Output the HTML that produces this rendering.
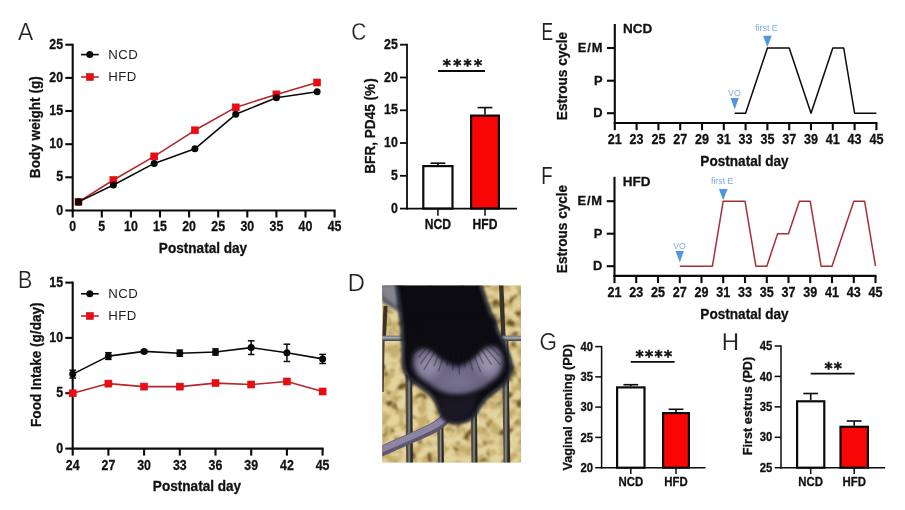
<!DOCTYPE html>
<html lang="en"><head><meta charset="utf-8"><title>Figure</title>
<style>html,body{margin:0;padding:0;background:#fff;}body{width:905px;height:510px;overflow:hidden;}svg{display:block;filter:blur(0.4px);}text{font-family:"Liberation Sans", Arial, sans-serif;fill:#111;}.b,.tk,.tks,.ax,.axs{stroke:#111;stroke-width:0.28px;}.b{font-weight:700;}.tk{font-weight:700;font-size:13.9px;}.tks{font-weight:700;font-size:11.9px;}.ax{font-weight:700;font-size:14.3px;}.axs{font-weight:700;font-size:13.3px;}.lg{font-size:13.2px;fill:#222;letter-spacing:0.55px;}.pl{font-size:24px;fill:#222;}.an{font-size:8.8px;fill:#7aaede;}.st{font-family:"DejaVu Sans","Liberation Sans",sans-serif;font-weight:700;font-size:15.5px;stroke:#111;stroke-width:0.55px;}</style></head><body>
<svg width="905" height="510" viewBox="0 0 905 510">
<rect width="905" height="510" fill="#ffffff"/>
<line x1="72.7" y1="43.8" x2="72.7" y2="211.4" stroke="#0a0a0a" stroke-width="2.10"/>
<line x1="71.8" y1="210.5" x2="335.6" y2="210.5" stroke="#0a0a0a" stroke-width="2.10"/>
<line x1="65.3" y1="210.5" x2="72.7" y2="210.5" stroke="#0a0a0a" stroke-width="2.10"/>
<text transform="translate(63.1 214.5) scale(0.890 1)" class="tk" text-anchor="end">0</text>
<line x1="65.3" y1="177.3" x2="72.7" y2="177.3" stroke="#0a0a0a" stroke-width="2.10"/>
<text transform="translate(63.1 181.3) scale(0.890 1)" class="tk" text-anchor="end">5</text>
<line x1="65.3" y1="144.2" x2="72.7" y2="144.2" stroke="#0a0a0a" stroke-width="2.10"/>
<text transform="translate(63.1 148.2) scale(0.890 1)" class="tk" text-anchor="end">10</text>
<line x1="65.3" y1="111.0" x2="72.7" y2="111.0" stroke="#0a0a0a" stroke-width="2.10"/>
<text transform="translate(63.1 115.0) scale(0.890 1)" class="tk" text-anchor="end">15</text>
<line x1="65.3" y1="77.9" x2="72.7" y2="77.9" stroke="#0a0a0a" stroke-width="2.10"/>
<text transform="translate(63.1 81.9) scale(0.890 1)" class="tk" text-anchor="end">20</text>
<line x1="65.3" y1="44.7" x2="72.7" y2="44.7" stroke="#0a0a0a" stroke-width="2.10"/>
<text transform="translate(63.1 48.7) scale(0.890 1)" class="tk" text-anchor="end">25</text>
<line x1="72.7" y1="210.5" x2="72.7" y2="217.5" stroke="#0a0a0a" stroke-width="2.10"/>
<text transform="translate(72.7 231.2) scale(0.890 1)" class="tk" text-anchor="middle">0</text>
<line x1="101.8" y1="210.5" x2="101.8" y2="217.5" stroke="#0a0a0a" stroke-width="2.10"/>
<text transform="translate(101.8 231.2) scale(0.890 1)" class="tk" text-anchor="middle">5</text>
<line x1="130.9" y1="210.5" x2="130.9" y2="217.5" stroke="#0a0a0a" stroke-width="2.10"/>
<text transform="translate(130.9 231.2) scale(0.890 1)" class="tk" text-anchor="middle">10</text>
<line x1="160.0" y1="210.5" x2="160.0" y2="217.5" stroke="#0a0a0a" stroke-width="2.10"/>
<text transform="translate(160.0 231.2) scale(0.890 1)" class="tk" text-anchor="middle">15</text>
<line x1="189.1" y1="210.5" x2="189.1" y2="217.5" stroke="#0a0a0a" stroke-width="2.10"/>
<text transform="translate(189.1 231.2) scale(0.890 1)" class="tk" text-anchor="middle">20</text>
<line x1="218.2" y1="210.5" x2="218.2" y2="217.5" stroke="#0a0a0a" stroke-width="2.10"/>
<text transform="translate(218.2 231.2) scale(0.890 1)" class="tk" text-anchor="middle">25</text>
<line x1="247.3" y1="210.5" x2="247.3" y2="217.5" stroke="#0a0a0a" stroke-width="2.10"/>
<text transform="translate(247.3 231.2) scale(0.890 1)" class="tk" text-anchor="middle">30</text>
<line x1="276.4" y1="210.5" x2="276.4" y2="217.5" stroke="#0a0a0a" stroke-width="2.10"/>
<text transform="translate(276.4 231.2) scale(0.890 1)" class="tk" text-anchor="middle">35</text>
<line x1="305.5" y1="210.5" x2="305.5" y2="217.5" stroke="#0a0a0a" stroke-width="2.10"/>
<text transform="translate(305.5 231.2) scale(0.890 1)" class="tk" text-anchor="middle">40</text>
<line x1="334.6" y1="210.5" x2="334.6" y2="217.5" stroke="#0a0a0a" stroke-width="2.10"/>
<text transform="translate(334.6 231.2) scale(0.890 1)" class="tk" text-anchor="middle">45</text>
<text transform="translate(40.3 127.2) rotate(-90) scale(0.951 1)" class="ax" text-anchor="middle">Body weight (g)</text>
<text transform="translate(203.0 253.0) scale(0.951 1)" class="ax" text-anchor="middle">Postnatal day</text>
<polyline points="78.5,201.9 113.4,180.0 154.2,156.4 194.9,130.3 235.7,107.4 276.4,94.4 317.1,82.5" fill="none" stroke="#b3272d" stroke-width="1.60" stroke-linejoin="round"/>
<rect x="75.0" y="198.4" width="7" height="7" fill="#f2090f" stroke="#c4161d" stroke-width="0.6"/>
<rect x="109.9" y="176.5" width="7" height="7" fill="#f2090f" stroke="#c4161d" stroke-width="0.6"/>
<rect x="150.7" y="152.9" width="7" height="7" fill="#f2090f" stroke="#c4161d" stroke-width="0.6"/>
<rect x="191.4" y="126.8" width="7" height="7" fill="#f2090f" stroke="#c4161d" stroke-width="0.6"/>
<rect x="232.2" y="103.9" width="7" height="7" fill="#f2090f" stroke="#c4161d" stroke-width="0.6"/>
<rect x="272.9" y="90.9" width="7" height="7" fill="#f2090f" stroke="#c4161d" stroke-width="0.6"/>
<rect x="313.6" y="79.0" width="7" height="7" fill="#f2090f" stroke="#c4161d" stroke-width="0.6"/>
<polyline points="78.5,201.9 113.4,185.0 154.2,163.4 194.9,148.8 235.7,114.3 276.4,97.8 317.1,91.8" fill="none" stroke="#0a0a0a" stroke-width="1.60" stroke-linejoin="round"/>
<circle cx="78.5" cy="201.9" r="3.5" fill="#0a0a0a"/>
<circle cx="113.4" cy="185.0" r="3.5" fill="#0a0a0a"/>
<circle cx="154.2" cy="163.4" r="3.5" fill="#0a0a0a"/>
<circle cx="194.9" cy="148.8" r="3.5" fill="#0a0a0a"/>
<circle cx="235.7" cy="114.3" r="3.5" fill="#0a0a0a"/>
<circle cx="276.4" cy="97.8" r="3.5" fill="#0a0a0a"/>
<circle cx="317.1" cy="91.8" r="3.5" fill="#0a0a0a"/>
<rect x="75.2" y="198.6" width="6.8" height="6.6" rx="1.5" fill="#160406"/>
<line x1="81.0" y1="54.6" x2="98.8" y2="54.6" stroke="#0a0a0a" stroke-width="1.60"/>
<circle cx="89.8" cy="54.6" r="3.5" fill="#0a0a0a"/>
<text x="108.2" y="59.0" class="lg" text-anchor="start">NCD</text>
<line x1="81.0" y1="77.0" x2="98.8" y2="77.0" stroke="#b3272d" stroke-width="1.60"/>
<rect x="86.3" y="73.5" width="7" height="7" fill="#f2090f" stroke="#c4161d" stroke-width="0.6"/>
<text x="108.2" y="81.4" class="lg" text-anchor="start">HFD</text>
<line x1="72.7" y1="281.6" x2="72.7" y2="449.6" stroke="#0a0a0a" stroke-width="2.10"/>
<line x1="71.8" y1="448.6" x2="323.6" y2="448.6" stroke="#0a0a0a" stroke-width="2.10"/>
<line x1="65.3" y1="448.6" x2="72.7" y2="448.6" stroke="#0a0a0a" stroke-width="2.10"/>
<text transform="translate(63.1 452.6) scale(0.890 1)" class="tk" text-anchor="end">0</text>
<line x1="65.3" y1="393.2" x2="72.7" y2="393.2" stroke="#0a0a0a" stroke-width="2.10"/>
<text transform="translate(63.1 397.2) scale(0.890 1)" class="tk" text-anchor="end">5</text>
<line x1="65.3" y1="337.9" x2="72.7" y2="337.9" stroke="#0a0a0a" stroke-width="2.10"/>
<text transform="translate(63.1 341.9) scale(0.890 1)" class="tk" text-anchor="end">10</text>
<line x1="65.3" y1="282.6" x2="72.7" y2="282.6" stroke="#0a0a0a" stroke-width="2.10"/>
<text transform="translate(63.1 286.6) scale(0.890 1)" class="tk" text-anchor="end">15</text>
<line x1="72.7" y1="448.6" x2="72.7" y2="455.6" stroke="#0a0a0a" stroke-width="2.10"/>
<text transform="translate(72.7 469.8) scale(0.890 1)" class="tk" text-anchor="middle">24</text>
<line x1="108.4" y1="448.6" x2="108.4" y2="455.6" stroke="#0a0a0a" stroke-width="2.10"/>
<text transform="translate(108.4 469.8) scale(0.890 1)" class="tk" text-anchor="middle">27</text>
<line x1="144.1" y1="448.6" x2="144.1" y2="455.6" stroke="#0a0a0a" stroke-width="2.10"/>
<text transform="translate(144.1 469.8) scale(0.890 1)" class="tk" text-anchor="middle">30</text>
<line x1="179.8" y1="448.6" x2="179.8" y2="455.6" stroke="#0a0a0a" stroke-width="2.10"/>
<text transform="translate(179.8 469.8) scale(0.890 1)" class="tk" text-anchor="middle">33</text>
<line x1="215.5" y1="448.6" x2="215.5" y2="455.6" stroke="#0a0a0a" stroke-width="2.10"/>
<text transform="translate(215.5 469.8) scale(0.890 1)" class="tk" text-anchor="middle">36</text>
<line x1="251.2" y1="448.6" x2="251.2" y2="455.6" stroke="#0a0a0a" stroke-width="2.10"/>
<text transform="translate(251.2 469.8) scale(0.890 1)" class="tk" text-anchor="middle">39</text>
<line x1="286.9" y1="448.6" x2="286.9" y2="455.6" stroke="#0a0a0a" stroke-width="2.10"/>
<text transform="translate(286.9 469.8) scale(0.890 1)" class="tk" text-anchor="middle">42</text>
<line x1="322.6" y1="448.6" x2="322.6" y2="455.6" stroke="#0a0a0a" stroke-width="2.10"/>
<text transform="translate(322.6 469.8) scale(0.890 1)" class="tk" text-anchor="middle">45</text>
<text transform="translate(40.6 364.7) rotate(-90) scale(0.951 1)" class="ax" text-anchor="middle">Food Intake (g/day)</text>
<text transform="translate(197.0 491.2) scale(0.951 1)" class="ax" text-anchor="middle">Postnatal day</text>
<polyline points="72.7,374.1 108.4,356.1 144.1,351.4 179.8,353.2 215.5,352.0 251.2,347.6 286.9,352.8 322.6,358.9" fill="none" stroke="#0a0a0a" stroke-width="1.60" stroke-linejoin="round"/>
<line x1="72.7" y1="370.2" x2="72.7" y2="378.0" stroke="#0a0a0a" stroke-width="1.50"/>
<line x1="69.4" y1="370.2" x2="76.0" y2="370.2" stroke="#0a0a0a" stroke-width="1.50"/>
<line x1="69.4" y1="378.0" x2="76.0" y2="378.0" stroke="#0a0a0a" stroke-width="1.50"/>
<circle cx="72.7" cy="374.1" r="3.5" fill="#0a0a0a"/>
<line x1="108.4" y1="352.7" x2="108.4" y2="359.4" stroke="#0a0a0a" stroke-width="1.50"/>
<line x1="105.1" y1="352.7" x2="111.7" y2="352.7" stroke="#0a0a0a" stroke-width="1.50"/>
<line x1="105.1" y1="359.4" x2="111.7" y2="359.4" stroke="#0a0a0a" stroke-width="1.50"/>
<circle cx="108.4" cy="356.1" r="3.5" fill="#0a0a0a"/>
<line x1="144.1" y1="350.1" x2="144.1" y2="352.7" stroke="#0a0a0a" stroke-width="1.50"/>
<line x1="140.8" y1="350.1" x2="147.4" y2="350.1" stroke="#0a0a0a" stroke-width="1.50"/>
<line x1="140.8" y1="352.7" x2="147.4" y2="352.7" stroke="#0a0a0a" stroke-width="1.50"/>
<circle cx="144.1" cy="351.4" r="3.5" fill="#0a0a0a"/>
<line x1="179.8" y1="350.1" x2="179.8" y2="356.3" stroke="#0a0a0a" stroke-width="1.50"/>
<line x1="176.5" y1="350.1" x2="183.1" y2="350.1" stroke="#0a0a0a" stroke-width="1.50"/>
<line x1="176.5" y1="356.3" x2="183.1" y2="356.3" stroke="#0a0a0a" stroke-width="1.50"/>
<circle cx="179.8" cy="353.2" r="3.5" fill="#0a0a0a"/>
<line x1="215.5" y1="348.9" x2="215.5" y2="355.1" stroke="#0a0a0a" stroke-width="1.50"/>
<line x1="212.2" y1="348.9" x2="218.8" y2="348.9" stroke="#0a0a0a" stroke-width="1.50"/>
<line x1="212.2" y1="355.1" x2="218.8" y2="355.1" stroke="#0a0a0a" stroke-width="1.50"/>
<circle cx="215.5" cy="352.0" r="3.5" fill="#0a0a0a"/>
<line x1="251.2" y1="340.8" x2="251.2" y2="354.5" stroke="#0a0a0a" stroke-width="1.50"/>
<line x1="247.9" y1="340.8" x2="254.5" y2="340.8" stroke="#0a0a0a" stroke-width="1.50"/>
<line x1="247.9" y1="354.5" x2="254.5" y2="354.5" stroke="#0a0a0a" stroke-width="1.50"/>
<circle cx="251.2" cy="347.6" r="3.5" fill="#0a0a0a"/>
<line x1="286.9" y1="344.2" x2="286.9" y2="361.5" stroke="#0a0a0a" stroke-width="1.50"/>
<line x1="283.6" y1="344.2" x2="290.2" y2="344.2" stroke="#0a0a0a" stroke-width="1.50"/>
<line x1="283.6" y1="361.5" x2="290.2" y2="361.5" stroke="#0a0a0a" stroke-width="1.50"/>
<circle cx="286.9" cy="352.8" r="3.5" fill="#0a0a0a"/>
<line x1="322.6" y1="354.4" x2="322.6" y2="363.5" stroke="#0a0a0a" stroke-width="1.50"/>
<line x1="319.3" y1="354.4" x2="325.9" y2="354.4" stroke="#0a0a0a" stroke-width="1.50"/>
<line x1="319.3" y1="363.5" x2="325.9" y2="363.5" stroke="#0a0a0a" stroke-width="1.50"/>
<circle cx="322.6" cy="358.9" r="3.5" fill="#0a0a0a"/>
<polyline points="72.7,393.2 108.4,383.6 144.1,386.6 179.8,386.6 215.5,383.1 251.2,384.5 286.9,381.5 322.6,391.5" fill="none" stroke="#b3272d" stroke-width="1.60" stroke-linejoin="round"/>
<rect x="69.2" y="389.8" width="7" height="7" fill="#f2090f" stroke="#c4161d" stroke-width="0.6"/>
<rect x="104.9" y="380.1" width="7" height="7" fill="#f2090f" stroke="#c4161d" stroke-width="0.6"/>
<rect x="140.6" y="383.1" width="7" height="7" fill="#f2090f" stroke="#c4161d" stroke-width="0.6"/>
<rect x="176.3" y="383.1" width="7" height="7" fill="#f2090f" stroke="#c4161d" stroke-width="0.6"/>
<rect x="212.0" y="379.6" width="7" height="7" fill="#f2090f" stroke="#c4161d" stroke-width="0.6"/>
<rect x="247.7" y="381.0" width="7" height="7" fill="#f2090f" stroke="#c4161d" stroke-width="0.6"/>
<rect x="283.4" y="378.0" width="7" height="7" fill="#f2090f" stroke="#c4161d" stroke-width="0.6"/>
<rect x="319.1" y="388.0" width="7" height="7" fill="#f2090f" stroke="#c4161d" stroke-width="0.6"/>
<line x1="81.0" y1="293.8" x2="98.8" y2="293.8" stroke="#0a0a0a" stroke-width="1.60"/>
<circle cx="89.8" cy="293.8" r="3.5" fill="#0a0a0a"/>
<text x="108.2" y="298.2" class="lg" text-anchor="start">NCD</text>
<line x1="81.0" y1="316.0" x2="98.8" y2="316.0" stroke="#b3272d" stroke-width="1.60"/>
<rect x="86.3" y="312.5" width="7" height="7" fill="#f2090f" stroke="#c4161d" stroke-width="0.6"/>
<text x="108.2" y="320.4" class="lg" text-anchor="start">HFD</text>
<line x1="437.9" y1="163.2" x2="437.9" y2="165.0" stroke="#0a0a0a" stroke-width="1.60"/>
<line x1="430.5" y1="163.2" x2="445.3" y2="163.2" stroke="#0a0a0a" stroke-width="1.60"/>
<rect x="423.3" y="166.1" width="29.2" height="42.5" fill="#ffffff" stroke="#0a0a0a" stroke-width="2.2"/>
<line x1="437.9" y1="208.6" x2="437.9" y2="215.8" stroke="#0a0a0a" stroke-width="1.50"/>
<line x1="485.0" y1="107.6" x2="485.0" y2="114.5" stroke="#0a0a0a" stroke-width="1.60"/>
<line x1="477.6" y1="107.6" x2="492.4" y2="107.6" stroke="#0a0a0a" stroke-width="1.60"/>
<rect x="471.1" y="115.6" width="27.8" height="93.0" fill="#f80606" stroke="#0a0a0a" stroke-width="2.2"/>
<line x1="485.0" y1="208.6" x2="485.0" y2="215.8" stroke="#0a0a0a" stroke-width="1.50"/>
<line x1="407.0" y1="43.8" x2="407.0" y2="209.5" stroke="#0a0a0a" stroke-width="1.80"/>
<line x1="406.1" y1="208.6" x2="517.0" y2="208.6" stroke="#0a0a0a" stroke-width="1.80"/>
<line x1="400.0" y1="208.6" x2="407.0" y2="208.6" stroke="#0a0a0a" stroke-width="1.80"/>
<text transform="translate(397.8 212.6) scale(0.890 1)" class="tk" text-anchor="end">0</text>
<line x1="400.0" y1="175.8" x2="407.0" y2="175.8" stroke="#0a0a0a" stroke-width="1.80"/>
<text transform="translate(397.8 179.8) scale(0.890 1)" class="tk" text-anchor="end">5</text>
<line x1="400.0" y1="143.0" x2="407.0" y2="143.0" stroke="#0a0a0a" stroke-width="1.80"/>
<text transform="translate(397.8 147.0) scale(0.890 1)" class="tk" text-anchor="end">10</text>
<line x1="400.0" y1="110.3" x2="407.0" y2="110.3" stroke="#0a0a0a" stroke-width="1.80"/>
<text transform="translate(397.8 114.3) scale(0.890 1)" class="tk" text-anchor="end">15</text>
<line x1="400.0" y1="77.5" x2="407.0" y2="77.5" stroke="#0a0a0a" stroke-width="1.80"/>
<text transform="translate(397.8 81.5) scale(0.890 1)" class="tk" text-anchor="end">20</text>
<line x1="400.0" y1="44.7" x2="407.0" y2="44.7" stroke="#0a0a0a" stroke-width="1.80"/>
<text transform="translate(397.8 48.7) scale(0.890 1)" class="tk" text-anchor="end">25</text>
<text transform="translate(437.9 229.2) scale(0.870 1)" class="tk" text-anchor="middle" font-size="14.3px">NCD</text>
<text transform="translate(485.0 229.2) scale(0.870 1)" class="tk" text-anchor="middle" font-size="14.3px">HFD</text>
<line x1="438.1" y1="71.0" x2="485.0" y2="71.0" stroke="#0a0a0a" stroke-width="1.80"/>
<text x="442.8" y="71.0" class="st" text-anchor="start" letter-spacing="2.30">****</text>
<text transform="translate(375.3 125.9) rotate(-90) scale(0.951 1)" class="ax" text-anchor="middle">BFR, PD45 (%<tspan dx="1.3">)</tspan></text>
<line x1="630.8" y1="384.7" x2="630.8" y2="386.3" stroke="#0a0a0a" stroke-width="1.60"/>
<line x1="623.4" y1="384.7" x2="638.2" y2="384.7" stroke="#0a0a0a" stroke-width="1.60"/>
<rect x="617.1" y="387.4" width="27.4" height="80.3" fill="#ffffff" stroke="#0a0a0a" stroke-width="2.2"/>
<line x1="630.8" y1="467.7" x2="630.8" y2="474.1" stroke="#0a0a0a" stroke-width="1.50"/>
<line x1="676.0" y1="409.3" x2="676.0" y2="412.0" stroke="#0a0a0a" stroke-width="1.60"/>
<line x1="668.6" y1="409.3" x2="683.4" y2="409.3" stroke="#0a0a0a" stroke-width="1.60"/>
<rect x="663.1" y="413.1" width="25.8" height="54.6" fill="#f80606" stroke="#0a0a0a" stroke-width="2.2"/>
<line x1="676.0" y1="467.7" x2="676.0" y2="474.1" stroke="#0a0a0a" stroke-width="1.50"/>
<line x1="601.6" y1="345.9" x2="601.6" y2="468.4" stroke="#0a0a0a" stroke-width="1.50"/>
<line x1="600.9" y1="467.7" x2="705.5" y2="467.7" stroke="#0a0a0a" stroke-width="1.50"/>
<line x1="595.2" y1="467.7" x2="601.6" y2="467.7" stroke="#0a0a0a" stroke-width="1.50"/>
<text transform="translate(593.0 471.8) scale(0.950 1)" class="tks" text-anchor="end">20</text>
<line x1="595.2" y1="437.4" x2="601.6" y2="437.4" stroke="#0a0a0a" stroke-width="1.50"/>
<text transform="translate(593.0 441.5) scale(0.950 1)" class="tks" text-anchor="end">25</text>
<line x1="595.2" y1="407.1" x2="601.6" y2="407.1" stroke="#0a0a0a" stroke-width="1.50"/>
<text transform="translate(593.0 411.2) scale(0.950 1)" class="tks" text-anchor="end">30</text>
<line x1="595.2" y1="376.9" x2="601.6" y2="376.9" stroke="#0a0a0a" stroke-width="1.50"/>
<text transform="translate(593.0 381.0) scale(0.950 1)" class="tks" text-anchor="end">35</text>
<line x1="595.2" y1="346.6" x2="601.6" y2="346.6" stroke="#0a0a0a" stroke-width="1.50"/>
<text transform="translate(593.0 350.7) scale(0.950 1)" class="tks" text-anchor="end">40</text>
<text transform="translate(630.8 486.0) scale(0.960 1)" class="tks" text-anchor="middle">NCD</text>
<text transform="translate(676.0 486.0) scale(0.960 1)" class="tks" text-anchor="middle">HFD</text>
<line x1="630.8" y1="361.9" x2="674.6" y2="361.9" stroke="#0a0a0a" stroke-width="1.80"/>
<text x="635.5" y="362.1" class="st" text-anchor="start" letter-spacing="1.40">****</text>
<text transform="translate(571.9 407.2) rotate(-90) scale(0.951 1)" class="axs" text-anchor="middle">Vaginal opening (PD)</text>
<line x1="810.7" y1="393.5" x2="810.7" y2="400.2" stroke="#0a0a0a" stroke-width="1.60"/>
<line x1="803.3" y1="393.5" x2="818.1" y2="393.5" stroke="#0a0a0a" stroke-width="1.60"/>
<rect x="797.1" y="401.3" width="27.2" height="66.4" fill="#ffffff" stroke="#0a0a0a" stroke-width="2.2"/>
<line x1="810.7" y1="467.7" x2="810.7" y2="474.1" stroke="#0a0a0a" stroke-width="1.50"/>
<line x1="854.2" y1="421.0" x2="854.2" y2="425.7" stroke="#0a0a0a" stroke-width="1.60"/>
<line x1="846.8" y1="421.0" x2="861.6" y2="421.0" stroke="#0a0a0a" stroke-width="1.60"/>
<rect x="840.5" y="426.8" width="27.4" height="40.9" fill="#f80606" stroke="#0a0a0a" stroke-width="2.2"/>
<line x1="854.2" y1="467.7" x2="854.2" y2="474.1" stroke="#0a0a0a" stroke-width="1.50"/>
<line x1="781.0" y1="345.2" x2="781.0" y2="468.4" stroke="#0a0a0a" stroke-width="1.50"/>
<line x1="780.2" y1="467.7" x2="885.0" y2="467.7" stroke="#0a0a0a" stroke-width="1.50"/>
<line x1="774.6" y1="467.7" x2="781.0" y2="467.7" stroke="#0a0a0a" stroke-width="1.50"/>
<text transform="translate(772.4 471.8) scale(0.950 1)" class="tks" text-anchor="end">25</text>
<line x1="774.6" y1="437.3" x2="781.0" y2="437.3" stroke="#0a0a0a" stroke-width="1.50"/>
<text transform="translate(772.4 441.4) scale(0.950 1)" class="tks" text-anchor="end">30</text>
<line x1="774.6" y1="406.9" x2="781.0" y2="406.9" stroke="#0a0a0a" stroke-width="1.50"/>
<text transform="translate(772.4 411.0) scale(0.950 1)" class="tks" text-anchor="end">35</text>
<line x1="774.6" y1="376.4" x2="781.0" y2="376.4" stroke="#0a0a0a" stroke-width="1.50"/>
<text transform="translate(772.4 380.5) scale(0.950 1)" class="tks" text-anchor="end">40</text>
<line x1="774.6" y1="346.0" x2="781.0" y2="346.0" stroke="#0a0a0a" stroke-width="1.50"/>
<text transform="translate(772.4 350.1) scale(0.950 1)" class="tks" text-anchor="end">45</text>
<text transform="translate(810.7 486.0) scale(0.960 1)" class="tks" text-anchor="middle">NCD</text>
<text transform="translate(854.2 486.0) scale(0.960 1)" class="tks" text-anchor="middle">HFD</text>
<line x1="810.7" y1="373.7" x2="854.7" y2="373.7" stroke="#0a0a0a" stroke-width="1.80"/>
<text x="824.5" y="374.1" class="st" text-anchor="start" letter-spacing="1.20">**</text>
<text transform="translate(751.6 406.0) rotate(-90) scale(0.951 1)" class="axs" text-anchor="middle">First estrus (PD)</text>
<line x1="614.8" y1="24.0" x2="614.8" y2="124.0" stroke="#0a0a0a" stroke-width="2.10"/>
<line x1="613.8" y1="123.0" x2="877.4" y2="123.0" stroke="#0a0a0a" stroke-width="2.10"/>
<line x1="607.0" y1="48.0" x2="614.8" y2="48.0" stroke="#0a0a0a" stroke-width="2.10"/>
<text x="603.2" y="51.8" class="b" text-anchor="end" font-size="12.9px" letter-spacing="0.8">E/M</text>
<line x1="607.0" y1="80.7" x2="614.8" y2="80.7" stroke="#0a0a0a" stroke-width="2.10"/>
<text x="602.6" y="84.5" class="b" text-anchor="end" font-size="12.9px">P</text>
<line x1="607.0" y1="113.2" x2="614.8" y2="113.2" stroke="#0a0a0a" stroke-width="2.10"/>
<text x="602.6" y="117.0" class="b" text-anchor="end" font-size="12.9px">D</text>
<line x1="614.8" y1="123.0" x2="614.8" y2="130.2" stroke="#0a0a0a" stroke-width="2.10"/>
<text transform="translate(614.8 144.1) scale(0.905 1)" class="tk" text-anchor="middle" font-size="13.7px">21</text>
<line x1="636.6" y1="123.0" x2="636.6" y2="130.2" stroke="#0a0a0a" stroke-width="2.10"/>
<text transform="translate(636.6 144.1) scale(0.905 1)" class="tk" text-anchor="middle" font-size="13.7px">23</text>
<line x1="658.4" y1="123.0" x2="658.4" y2="130.2" stroke="#0a0a0a" stroke-width="2.10"/>
<text transform="translate(658.4 144.1) scale(0.905 1)" class="tk" text-anchor="middle" font-size="13.7px">25</text>
<line x1="680.2" y1="123.0" x2="680.2" y2="130.2" stroke="#0a0a0a" stroke-width="2.10"/>
<text transform="translate(680.2 144.1) scale(0.905 1)" class="tk" text-anchor="middle" font-size="13.7px">27</text>
<line x1="702.0" y1="123.0" x2="702.0" y2="130.2" stroke="#0a0a0a" stroke-width="2.10"/>
<text transform="translate(702.0 144.1) scale(0.905 1)" class="tk" text-anchor="middle" font-size="13.7px">29</text>
<line x1="723.8" y1="123.0" x2="723.8" y2="130.2" stroke="#0a0a0a" stroke-width="2.10"/>
<text transform="translate(723.8 144.1) scale(0.905 1)" class="tk" text-anchor="middle" font-size="13.7px">31</text>
<line x1="745.6" y1="123.0" x2="745.6" y2="130.2" stroke="#0a0a0a" stroke-width="2.10"/>
<text transform="translate(745.6 144.1) scale(0.905 1)" class="tk" text-anchor="middle" font-size="13.7px">33</text>
<line x1="767.4" y1="123.0" x2="767.4" y2="130.2" stroke="#0a0a0a" stroke-width="2.10"/>
<text transform="translate(767.4 144.1) scale(0.905 1)" class="tk" text-anchor="middle" font-size="13.7px">35</text>
<line x1="789.2" y1="123.0" x2="789.2" y2="130.2" stroke="#0a0a0a" stroke-width="2.10"/>
<text transform="translate(789.2 144.1) scale(0.905 1)" class="tk" text-anchor="middle" font-size="13.7px">37</text>
<line x1="811.0" y1="123.0" x2="811.0" y2="130.2" stroke="#0a0a0a" stroke-width="2.10"/>
<text transform="translate(811.0 144.1) scale(0.905 1)" class="tk" text-anchor="middle" font-size="13.7px">39</text>
<line x1="832.8" y1="123.0" x2="832.8" y2="130.2" stroke="#0a0a0a" stroke-width="2.10"/>
<text transform="translate(832.8 144.1) scale(0.905 1)" class="tk" text-anchor="middle" font-size="13.7px">41</text>
<line x1="854.6" y1="123.0" x2="854.6" y2="130.2" stroke="#0a0a0a" stroke-width="2.10"/>
<text transform="translate(854.6 144.1) scale(0.905 1)" class="tk" text-anchor="middle" font-size="13.7px">43</text>
<line x1="876.4" y1="123.0" x2="876.4" y2="130.2" stroke="#0a0a0a" stroke-width="2.10"/>
<text transform="translate(876.4 144.1) scale(0.905 1)" class="tk" text-anchor="middle" font-size="13.7px">45</text>
<text x="623.0" y="32.7" class="b" text-anchor="start" font-size="13.5px">NCD</text>
<text transform="translate(744.5 166.0) scale(0.951 1)" class="ax" text-anchor="middle">Postnatal day</text>
<text transform="translate(567.2 76.0) rotate(-90) scale(0.951 1)" class="ax" text-anchor="middle">Estrous cycle</text>
<polyline points="734.7,113.2 745.6,113.2 767.4,48.0 789.2,48.0 811.0,113.2 832.8,48.0 843.7,48.0 854.6,113.2 876.4,113.2" fill="none" stroke="#0a0a0a" stroke-width="1.50" stroke-linejoin="round"/>
<text x="734.4" y="95.7" class="an" text-anchor="middle">VO</text>
<polygon points="730.6,98.0 738.8,98.0 734.7,109.4" fill="#4f97e0"/>
<text x="766.4" y="31.2" class="an" text-anchor="middle">first E</text>
<polygon points="763.0,35.8 771.8,35.8 767.4,47.0" fill="#4f97e0"/>
<line x1="614.5" y1="176.8" x2="614.5" y2="276.9" stroke="#0a0a0a" stroke-width="2.10"/>
<line x1="613.5" y1="275.9" x2="876.5" y2="275.9" stroke="#0a0a0a" stroke-width="2.10"/>
<line x1="606.7" y1="201.2" x2="614.5" y2="201.2" stroke="#0a0a0a" stroke-width="2.10"/>
<text x="602.9" y="205.0" class="b" text-anchor="end" font-size="12.9px" letter-spacing="0.8">E/M</text>
<line x1="606.7" y1="233.7" x2="614.5" y2="233.7" stroke="#0a0a0a" stroke-width="2.10"/>
<text x="602.3" y="237.5" class="b" text-anchor="end" font-size="12.9px">P</text>
<line x1="606.7" y1="266.2" x2="614.5" y2="266.2" stroke="#0a0a0a" stroke-width="2.10"/>
<text x="602.3" y="270.0" class="b" text-anchor="end" font-size="12.9px">D</text>
<line x1="614.5" y1="275.9" x2="614.5" y2="283.1" stroke="#0a0a0a" stroke-width="2.10"/>
<text transform="translate(614.5 297.0) scale(0.905 1)" class="tk" text-anchor="middle" font-size="13.7px">21</text>
<line x1="636.2" y1="275.9" x2="636.2" y2="283.1" stroke="#0a0a0a" stroke-width="2.10"/>
<text transform="translate(636.2 297.0) scale(0.905 1)" class="tk" text-anchor="middle" font-size="13.7px">23</text>
<line x1="658.0" y1="275.9" x2="658.0" y2="283.1" stroke="#0a0a0a" stroke-width="2.10"/>
<text transform="translate(658.0 297.0) scale(0.905 1)" class="tk" text-anchor="middle" font-size="13.7px">25</text>
<line x1="679.8" y1="275.9" x2="679.8" y2="283.1" stroke="#0a0a0a" stroke-width="2.10"/>
<text transform="translate(679.8 297.0) scale(0.905 1)" class="tk" text-anchor="middle" font-size="13.7px">27</text>
<line x1="701.5" y1="275.9" x2="701.5" y2="283.1" stroke="#0a0a0a" stroke-width="2.10"/>
<text transform="translate(701.5 297.0) scale(0.905 1)" class="tk" text-anchor="middle" font-size="13.7px">29</text>
<line x1="723.2" y1="275.9" x2="723.2" y2="283.1" stroke="#0a0a0a" stroke-width="2.10"/>
<text transform="translate(723.2 297.0) scale(0.905 1)" class="tk" text-anchor="middle" font-size="13.7px">31</text>
<line x1="745.0" y1="275.9" x2="745.0" y2="283.1" stroke="#0a0a0a" stroke-width="2.10"/>
<text transform="translate(745.0 297.0) scale(0.905 1)" class="tk" text-anchor="middle" font-size="13.7px">33</text>
<line x1="766.8" y1="275.9" x2="766.8" y2="283.1" stroke="#0a0a0a" stroke-width="2.10"/>
<text transform="translate(766.8 297.0) scale(0.905 1)" class="tk" text-anchor="middle" font-size="13.7px">35</text>
<line x1="788.5" y1="275.9" x2="788.5" y2="283.1" stroke="#0a0a0a" stroke-width="2.10"/>
<text transform="translate(788.5 297.0) scale(0.905 1)" class="tk" text-anchor="middle" font-size="13.7px">37</text>
<line x1="810.2" y1="275.9" x2="810.2" y2="283.1" stroke="#0a0a0a" stroke-width="2.10"/>
<text transform="translate(810.2 297.0) scale(0.905 1)" class="tk" text-anchor="middle" font-size="13.7px">39</text>
<line x1="832.0" y1="275.9" x2="832.0" y2="283.1" stroke="#0a0a0a" stroke-width="2.10"/>
<text transform="translate(832.0 297.0) scale(0.905 1)" class="tk" text-anchor="middle" font-size="13.7px">41</text>
<line x1="853.8" y1="275.9" x2="853.8" y2="283.1" stroke="#0a0a0a" stroke-width="2.10"/>
<text transform="translate(853.8 297.0) scale(0.905 1)" class="tk" text-anchor="middle" font-size="13.7px">43</text>
<line x1="875.5" y1="275.9" x2="875.5" y2="283.1" stroke="#0a0a0a" stroke-width="2.10"/>
<text transform="translate(875.5 297.0) scale(0.905 1)" class="tk" text-anchor="middle" font-size="13.7px">45</text>
<text x="622.7" y="185.5" class="b" text-anchor="start" font-size="13.5px">HFD</text>
<text transform="translate(744.5 318.9) scale(0.951 1)" class="ax" text-anchor="middle">Postnatal day</text>
<text transform="translate(567.2 229.0) rotate(-90) scale(0.951 1)" class="ax" text-anchor="middle">Estrous cycle</text>
<polyline points="679.8,266.2 712.4,266.2 723.2,201.2 745.0,201.2 755.9,266.2 766.8,266.2 777.6,233.7 788.5,233.7 799.4,201.2 810.2,201.2 821.1,266.2 832.0,266.2 853.8,201.2 864.6,201.2 875.5,266.2" fill="none" stroke="#a83035" stroke-width="1.50" stroke-linejoin="round"/>
<text x="679.5" y="248.7" class="an" text-anchor="middle">VO</text>
<polygon points="675.6,251.0 683.9,251.0 679.8,262.4" fill="#4f97e0"/>
<text x="722.2" y="184.4" class="an" text-anchor="middle">first E</text>
<polygon points="718.9,189.0 727.6,189.0 723.2,200.2" fill="#4f97e0"/>
<text transform="translate(18.05 39.8) scale(0.949 1)" x="-0.11" y="0" class="pl" stroke="#fff" stroke-width="0.25">A</text>
<text transform="translate(19.80 287.6) scale(0.893 1)" x="-1.96" y="0" class="pl" stroke="#fff" stroke-width="0.25">B</text>
<text transform="translate(352.20 40.0) scale(0.870 1)" x="-1.20" y="0" class="pl" stroke="#fff" stroke-width="0.25">C</text>
<text transform="translate(349.80 290.9) scale(0.988 1)" x="-1.96" y="0" class="pl" stroke="#fff" stroke-width="0.25">D</text>
<text transform="translate(542.85 40.0) scale(0.723 1)" x="-1.96" y="0" class="pl" stroke="#fff" stroke-width="0.00">E</text>
<text transform="translate(542.85 183.8) scale(0.771 1)" x="-1.96" y="0" class="pl" stroke="#fff" stroke-width="0.00">F</text>
<text transform="translate(540.70 349.5) scale(0.936 1)" x="-1.20" y="0" class="pl" stroke="#fff" stroke-width="0.25">G</text>
<text transform="translate(723.70 349.6) scale(1.000 1)" x="-1.96" y="0" class="pl" stroke="#fff" stroke-width="0.25">H</text>
<defs>
<clipPath id="pc"><rect x="382.3" y="285.4" width="138.7" height="177.1"/></clipPath>
<filter id="bed" x="0" y="0" width="100%" height="100%" color-interpolation-filters="sRGB"><feTurbulence type="fractalNoise" baseFrequency="0.11 0.11" numOctaves="2" seed="11" result="n"/><feColorMatrix in="n" type="matrix" values="0 0 0 0 0  0 0 0 0 0  0 0 0 0 0  5 0 0 0 -1.9" result="a"/><feFlood flood-color="#e3d39d" result="lt"/><feComposite in="lt" in2="a" operator="in" result="spots"/><feColorMatrix in="n" type="matrix" values="0 0 0 0 0  0 0 0 0 0  0 0 0 0 0  0 -7 0 0 3.25" result="s"/><feFlood flood-color="#6b5224" result="sh"/><feComposite in="sh" in2="s" operator="in" result="shad"/><feFlood flood-color="#c6ae6c" result="dk"/><feMerge><feMergeNode in="dk"/><feMergeNode in="shad"/><feMergeNode in="spots"/></feMerge><feGaussianBlur stdDeviation="0.8"/></filter>
<filter id="bl1" x="-20%" y="-20%" width="140%" height="140%" color-interpolation-filters="sRGB"><feGaussianBlur stdDeviation="1.5"/></filter>
<filter id="bl2" x="-30%" y="-30%" width="160%" height="160%" color-interpolation-filters="sRGB"><feGaussianBlur stdDeviation="2.6"/></filter>
<filter id="bl3" x="-30%" y="-30%" width="160%" height="160%" color-interpolation-filters="sRGB"><feGaussianBlur stdDeviation="4"/></filter>
<filter id="bl0" x="-20%" y="-20%" width="140%" height="140%" color-interpolation-filters="sRGB"><feGaussianBlur stdDeviation="0.7"/></filter>
<linearGradient id="barg" x1="0" x2="1" y1="0" y2="0"><stop offset="0" stop-color="#55534e"/><stop offset="0.3" stop-color="#4a4843"/><stop offset="0.48" stop-color="#8e8c86"/><stop offset="0.6" stop-color="#6a6862"/><stop offset="0.72" stop-color="#2b2926"/><stop offset="1" stop-color="#33302c"/></linearGradient>
<linearGradient id="hbar" x1="0" x2="0" y1="0" y2="1"><stop offset="0" stop-color="#6a6c70"/><stop offset="0.4" stop-color="#a4aab2"/><stop offset="1" stop-color="#3c3a38"/></linearGradient>
</defs>
<g clip-path="url(#pc)">
<rect x="382.3" y="285.4" width="138.7" height="177.1" fill="#c4a85a"/>
<rect x="382.3" y="285.4" width="138.7" height="177.1" filter="url(#bed)"/>
<g filter="url(#bl0)">
<polygon points="498.8,280.0 503.2,280.0 505.6,338.0 501.2,338.0" fill="#3b322a"/>
<polygon points="501.7,338.0 508.3,338.0 510.3,470.0 503.7,470.0" fill="url(#barg)"/>
<polygon points="405.4,375.0 412.2,375.0 413.0,470.0 406.2,470.0" fill="url(#barg)"/>
<polygon points="437.2,425.0 443.4,425.0 444.1,470.0 437.9,470.0" fill="url(#barg)"/>
<polygon points="470.5,400.0 476.7,400.0 477.7,470.0 471.5,470.0" fill="url(#barg)"/>
<polygon points="383.5,306.0 387.5,306.0 386.0,338.0 382.0,338.0" fill="#3b322a"/>
<polygon points="381.7,338.0 384.7,338.0 383.7,392.0 380.7,392.0" fill="#4a4238"/>
<rect x="380" y="335.6" width="145" height="5.4" fill="url(#hbar)"/>
</g>
<path d="M380,283 L404,283 C406,296 406,306 403,313 C395,311 386,304 380,300 Z" fill="#5c5c66" filter="url(#bl1)"/>
<path d="M382,285 L398,285 C400,294 399,302 396,306 C391,302 386,298 382,295 Z" fill="#85858e" filter="url(#bl1)"/>
<path d="M448,414 C443,424 432,429 420,434.2 C408,439.5 394,445.5 374,454.5" fill="none" stroke="#5f5570" stroke-width="10.5" stroke-linecap="round" filter="url(#bl0)"/>
<path d="M448,413 C443,422.5 432,427.5 420,432.6 C408,437.9 394,443.9 374,452.8" fill="none" stroke="#8d85a1" stroke-width="6.2" stroke-linecap="round" filter="url(#bl0)"/>
<path d="M396,280 L479,280 C484,296 490,312 496,327 C500,337 509,350 511.5,365 C512,376 506,383 497,390 C488,396 481,403 477.5,410 C474,418 466,422.5 456,422.5 C447,422.5 441.5,417 439,409 C436,399 428,391 418,385 C407,378 403,372 403,360 C403.5,344 401.5,322 399.5,306 C398.5,296 397,288 396,280 Z" fill="#0c0b11" filter="url(#bl1)"/>
<path d="M396,280 L479,280 C484,296 490,312 496,327 C500,337 509,350 511.5,365 C512,376 506,383 497,390 C488,396 481,403 477.5,410 C474,418 466,422.5 456,422.5 C447,422.5 441.5,417 439,409 C436,399 428,391 418,385 C407,378 403,372 403,360 C403.5,344 401.5,322 399.5,306 C398.5,296 397,288 396,280 Z" fill="none" stroke="#262b3a" stroke-width="3" filter="url(#bl1)"/>
<path d="M414.5,354 C418,347 427,348 437,354 C447,361 467,362 477,355 C485,348 494,344 499.5,350 C504,358 503,369 496.5,377 C488,385 479,390 470,393 C458,396 447,395 439,390.5 C430,385 419,377 415,368 C413,362 413,358 414.5,354 Z" fill="#6b6583" filter="url(#bl2)"/>
<ellipse cx="428.5" cy="365" rx="11.5" ry="11.5" fill="#918aa5" filter="url(#bl3)" transform="rotate(35 427 365)"/>
<ellipse cx="487" cy="361.5" rx="11" ry="13" fill="#9992ad" filter="url(#bl3)" transform="rotate(-30 489 361)"/>
<ellipse cx="457" cy="381" rx="15" ry="8" fill="#777190" filter="url(#bl3)"/>
<path d="M414,318 C424,345 442,364 457,367 C472,364 488,345 498,318 Z" fill="#0c0b11" filter="url(#bl2)"/>
<g stroke="#15131d" stroke-linecap="round" filter="url(#bl0)" opacity="0.38">
<line x1="493.1" y1="338.8" x2="504.4" y2="346.6" stroke-width="1.4"/>
<line x1="490.3" y1="341.3" x2="507.8" y2="354.8" stroke-width="1.4"/>
<line x1="487.2" y1="343.6" x2="499.4" y2="355.8" stroke-width="1.4"/>
<line x1="483.8" y1="345.6" x2="500.2" y2="364.6" stroke-width="1.4"/>
<line x1="480.1" y1="347.4" x2="491.4" y2="364.4" stroke-width="1.4"/>
<line x1="476.1" y1="349.0" x2="483.2" y2="363.3" stroke-width="1.4"/>
<line x1="471.9" y1="350.2" x2="480.6" y2="371.8" stroke-width="1.4"/>
<line x1="467.5" y1="351.1" x2="472.4" y2="369.5" stroke-width="1.4"/>
<line x1="463.1" y1="351.7" x2="465.1" y2="366.6" stroke-width="1.4"/>
<line x1="458.5" y1="352.0" x2="459.4" y2="374.0" stroke-width="1.4"/>
<line x1="454.0" y1="351.9" x2="452.6" y2="369.9" stroke-width="1.4"/>
<line x1="449.4" y1="351.5" x2="447.1" y2="365.3" stroke-width="1.4"/>
<line x1="445.0" y1="350.8" x2="438.7" y2="371.0" stroke-width="1.4"/>
<line x1="440.7" y1="349.8" x2="434.1" y2="365.6" stroke-width="1.4"/>
<line x1="436.6" y1="348.5" x2="424.0" y2="369.7" stroke-width="1.4"/>
<line x1="432.7" y1="346.9" x2="420.7" y2="363.5" stroke-width="1.4"/>
<line x1="429.0" y1="345.0" x2="418.6" y2="357.2" stroke-width="1.4"/>
<line x1="425.7" y1="342.8" x2="407.4" y2="358.8" stroke-width="1.4"/>
<line x1="422.7" y1="340.5" x2="406.8" y2="352.2" stroke-width="1.4"/>
<line x1="420.1" y1="337.9" x2="407.4" y2="345.8" stroke-width="1.4"/>
</g>
<path d="M437,394 C446,398 466,398 478,393 C476,404 474,414 467,419 C459,423.5 447,423 443,417 C440,411 438.5,402 437,394 Z" fill="#1a1824" filter="url(#bl2)"/>
</g>
</svg></body></html>
